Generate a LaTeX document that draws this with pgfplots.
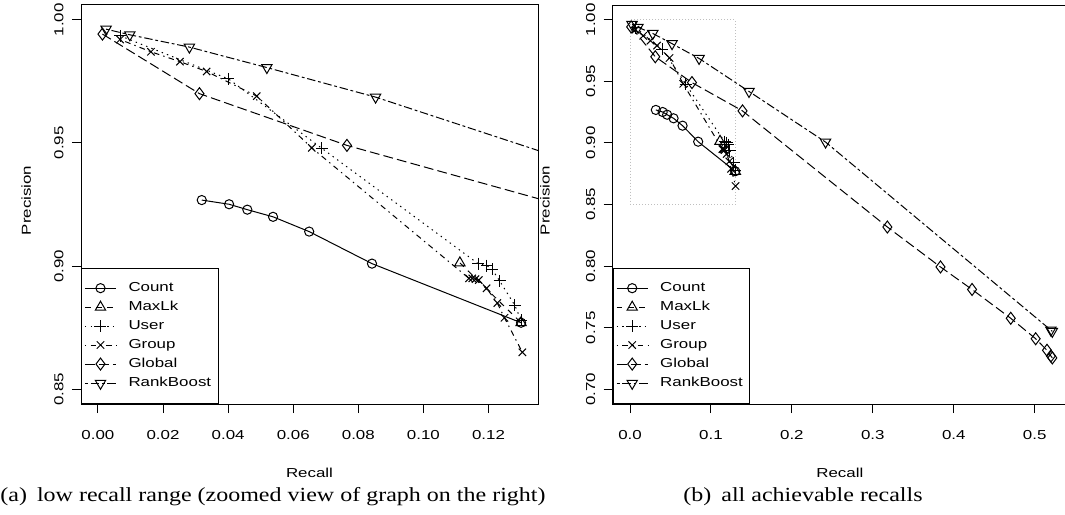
\documentclass[border=0pt]{standalone}
\usepackage{fontspec}
\setmainfont[FakeStretch=1.2]{Liberation Serif}
\newfontfamily\ticksans[FakeStretch=1.3]{Liberation Sans}
\usepackage{pgfplots}
\pgfplotsset{compat=1.18}
\usepackage{pgfplotstable}
\newcommand{\tf}{\ticksans\fontsize{6.5}{7.5}\selectfont}

% recall / precision pairs
\pgfplotstableread{
r p
0.0319 0.9268
0.0403 0.9251
0.0459 0.9229
0.0538 0.9200
0.0649 0.9140
0.0842 0.9010
0.1300 0.8770
}\countdata
\pgfplotstableread{
r p
0.1112 0.9013
0.1300 0.8770
}\maxlkdata
\pgfplotstableread{
r p
0.0068 0.9935
0.0401 0.9760
0.0688 0.9478
0.1168 0.9010
0.1195 0.9002
0.1211 0.8987
0.1234 0.8940
0.1281 0.8840
0.1300 0.8780
}\userdata
\pgfplotstableread{
r p
0.0068 0.9920
0.0163 0.9870
0.0252 0.9830
0.0334 0.9790
0.0488 0.9690
0.0657 0.9480
0.1140 0.8950
0.1150 0.8950
0.1160 0.8947
0.1170 0.8943
0.1194 0.8910
0.1227 0.8850
0.1249 0.8790
0.1304 0.8650
}\groupdata
\pgfplotstableread{
r p
0.0014 0.9942
0.0312 0.9700
0.0765 0.9490
0.1390 0.9260
0.3180 0.8317
0.3836 0.7993
0.4226 0.7810
0.4704 0.7576
0.5012 0.7410
0.5152 0.7316
0.5200 0.7270
0.5218 0.7254
}\globaldata
\pgfplotstableread{
r p
0.0025 0.9962
0.0098 0.9939
0.0281 0.9889
0.0519 0.9806
0.0853 0.9686
0.1470 0.9418
0.2416 0.9007
0.5200 0.7480
0.5218 0.7470
}\rankdata
\pgfplotstableread{
r p
0.00 0.85
0.13 0.85
0.13 1.00
0.00 1.00
0.00 0.85
}\zoombox

\pgfplotsset{
  rplot/.style={
    scale only axis, height=199.5pt,
    axis line style={line width=0.5pt},
    tick align=outside, major tick length=4.5pt,
    xtick pos=bottom, ytick pos=left,
    every tick/.style={black, line width=0.5pt},
    tick label style={font=\tf},
    xticklabel style={anchor=center, yshift=-11pt},
    yticklabel style={anchor=center, xshift=-6.5pt, rotate=90},
    legend style={at={(0,0)}, anchor=south west, draw=black, line width=0.5pt,
      font=\tf, inner xsep=1.5pt, inner ysep=6pt, row sep=1.4pt,
      nodes={inner ysep=1pt},
      /tikz/every odd column/.append style={column sep=4pt}},
    legend cell align=left,
    legend image code/.code={
      \draw[mark repeat=2, mark phase=2, #1]
        plot coordinates {(0pt,0pt) (7.75pt,0pt) (15.5pt,0pt)};},
  },
  s count/.style={black, line width=0.5pt, solid, mark=o, mark size=2.3pt, mark options={solid}},
  s maxlk/.style={black, line width=0.5pt, dash pattern=on 2.8pt off 2.8pt, mark=triangle, mark size=3pt, mark options={solid}},
  s user/.style={black, line width=0.5pt, dash pattern=on 0.7pt off 2.1pt, mark=+, mark size=3pt, mark options={solid}},
  s group/.style={black, line width=0.5pt, dash pattern=on 0.7pt off 2.1pt on 2.8pt off 2.1pt, mark=x, mark size=2.6pt, mark options={solid}},
  s global/.style={black, line width=0.5pt, dash pattern=on 4.9pt off 2.1pt, mark=diamond, mark size=3pt, mark options={solid}},
  s rank/.style={black, line width=0.5pt, dash pattern=on 1.4pt off 1.4pt on 4.2pt off 1.4pt, mark=triangle, mark size=3pt, mark options={solid, rotate=180}},
}

\begin{document}
\begin{tikzpicture}
\useasboundingbox (0,0) rectangle (532.5pt,-257pt);

% (a) low recall range
\begin{axis}[rplot,
    at={(40.5pt,-202pt)}, anchor=south west, width=228.5pt,
    xmin=-0.0052, xmax=0.1352, ymin=0.844, ymax=1.006,
    xtick={0,0.02,0.04,0.06,0.08,0.10,0.12},
    xticklabels={0.00,0.02,0.04,0.06,0.08,0.10,0.12},
    ytick={0.85,0.90,0.95,1.00},
    yticklabels={0.85,0.90,0.95,1.00},
    xlabel={Recall}, ylabel={Precision},
    every axis x label/.style={at={(axis description cs:0.5,-0.173)}, anchor=center, font=\tf},
    every axis y label/.style={at={(axis description cs:-0.12,0.51)}, anchor=center, rotate=90, font=\tf},
  ]
  \addplot[s count] table {\countdata};
  \addplot[s maxlk] table {\maxlkdata};
  \addplot[s user] table {\userdata};
  \addplot[s group] table {\groupdata};
  \addplot[s global] table {\globaldata};
  \addplot[s rank] table {\rankdata};
  \legend{Count, MaxLk, User, Group, Global, RankBoost}
\end{axis}

% (b) all achievable recalls
\begin{axis}[rplot,
    at={(306.35pt,-202pt)}, anchor=south west, width=233.65pt,
    xmin=-0.0214, xmax=0.556, ymin=0.688, ymax=1.012,
    xtick={0,0.1,0.2,0.3,0.4,0.5},
    xticklabels={0.0,0.1,0.2,0.3,0.4,0.5},
    ytick={0.70,0.75,0.80,0.85,0.90,0.95,1.00},
    yticklabels={0.70,0.75,0.80,0.85,0.90,0.95,1.00},
    xlabel={Recall}, ylabel={Precision},
    every axis x label/.style={at={(axis description cs:0.486,-0.173)}, anchor=center, font=\tf},
    every axis y label/.style={at={(axis description cs:-0.145,0.51)}, anchor=center, rotate=90, font=\tf},
  ]
  \addplot[gray!50, line width=0.5pt, densely dotted, forget plot] table {\zoombox};
  \addplot[s count] table {\countdata};
  \addplot[s maxlk] table {\maxlkdata};
  \addplot[s user] table {\userdata};
  \addplot[s group] table {\groupdata};
  \addplot[s global] table {\globaldata};
  \addplot[s rank] table {\rankdata};
  \legend{Count, MaxLk, User, Group, Global, RankBoost}
\end{axis}

\node at (136.5pt,-248.5pt) {(a)\enspace low recall range (zoomed view of graph on the right)};
\node at (401.5pt,-248.5pt) {(b)\enspace all achievable recalls};
\end{tikzpicture}
\end{document}
